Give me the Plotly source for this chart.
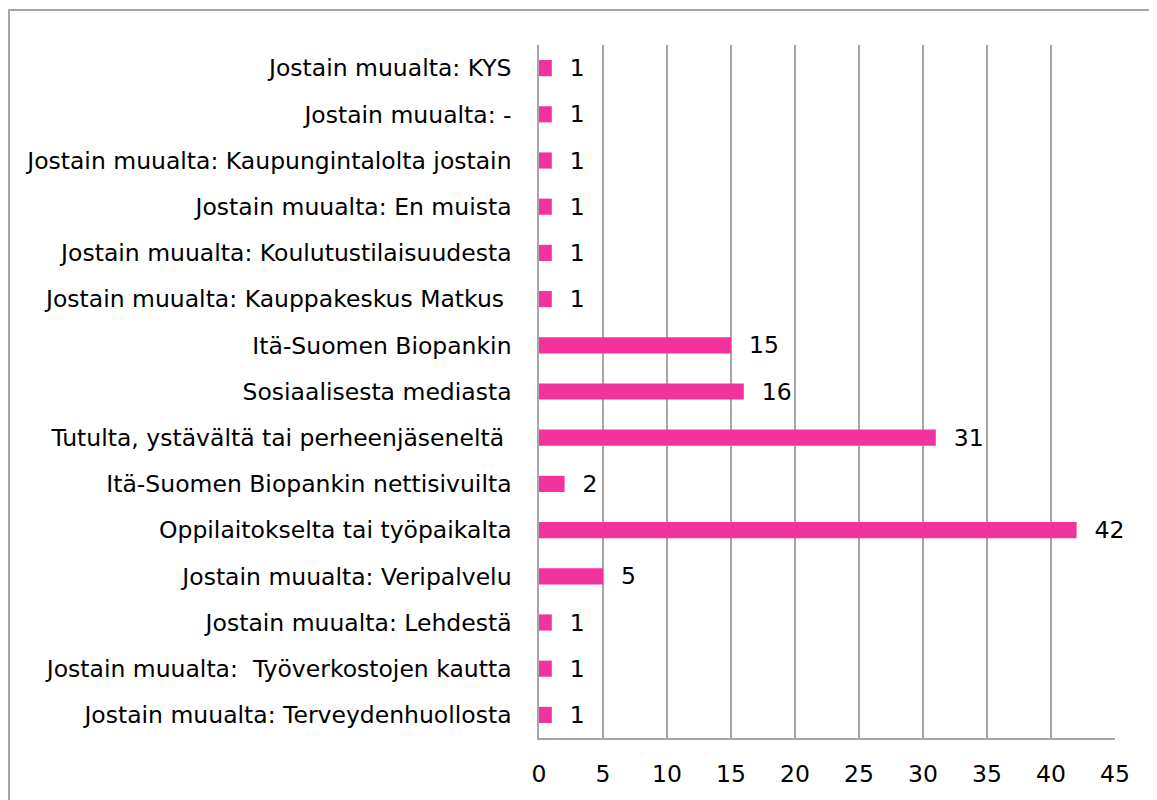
import plotly.graph_objects as go

categories = [
    "Jostain muualta: Terveydenhuollosta",
    "Jostain muualta:  Työverkostojen kautta",
    "Jostain muualta: Lehdestä",
    "Jostain muualta: Veripalvelu",
    "Oppilaitokselta tai työpaikalta",
    "Itä-Suomen Biopankin nettisivuilta",
    "Tutulta, ystävältä tai perheenjäseneltä ",
    "Sosiaalisesta mediasta",
    "Itä-Suomen Biopankin",
    "Jostain muualta: Kauppakeskus Matkus ",
    "Jostain muualta: Koulutustilaisuudesta",
    "Jostain muualta: En muista",
    "Jostain muualta: Kaupungintalolta jostain",
    "Jostain muualta: -",
    "Jostain muualta: KYS",
]
values = [1, 1, 1, 5, 42, 2, 31, 16, 15, 1, 1, 1, 1, 1, 1]
x_ticks = [0, 5, 10, 15, 20, 25, 30, 35, 40, 45]

FONT = "DejaVu Sans"
FS = 23.5
labels = [c.replace(" ", "\u00a0") for c in categories]

fig = go.Figure(go.Bar(
    x=values, y=labels, orientation="h",
    marker=dict(color="#F3339D", line=dict(width=0)),
    width=0.35,
    text=["\u00a0\u00a0" + str(v) for v in values], textposition="outside",
    constraintext="none",
    textfont=dict(family=FONT, size=FS, color="black"),
    cliponaxis=False,
))

fig.update_layout(
    width=1149, height=792,
    margin=dict(l=531, r=42, t=37, b=60),
    paper_bgcolor="white", plot_bgcolor="white",
    font=dict(family=FONT, size=FS, color="black"),
    showlegend=False,
    uniformtext=dict(mode=False),
    xaxis=dict(
        range=[0, 45], tickvals=x_ticks, showgrid=True, gridcolor="#A6A6A6", gridwidth=1.5,
        zeroline=False, showline=True, linecolor="#A6A6A6", linewidth=1.5,
        ticks="outside", ticklen=14, tickcolor="rgba(0,0,0,0)",
        tickfont=dict(family=FONT, size=FS, color="black"), fixedrange=True,
    ),
    yaxis=dict(
        type="category", categoryorder="array", categoryarray=labels,
        showgrid=False, zeroline=False, showline=True, linecolor="#A6A6A6", linewidth=1.5,
        ticks="outside", ticklen=21, tickcolor="rgba(0,0,0,0)",
        tickfont=dict(family=FONT, size=FS, color="black"),
    ),
    shapes=[dict(
        type="rect", xref="paper", yref="paper",
        x0=(532 - 531) / 576 - 1 * 0 - 531 / 576, x1=(1170 - 539) / 576,
        y0=-(815 - 740) / 695, y1=(740 - 10) / 695,
        line=dict(color="#A6A6A6", width=2), fillcolor="rgba(0,0,0,0)", layer="below",
    )],
)

fig.write_html("out.html")
